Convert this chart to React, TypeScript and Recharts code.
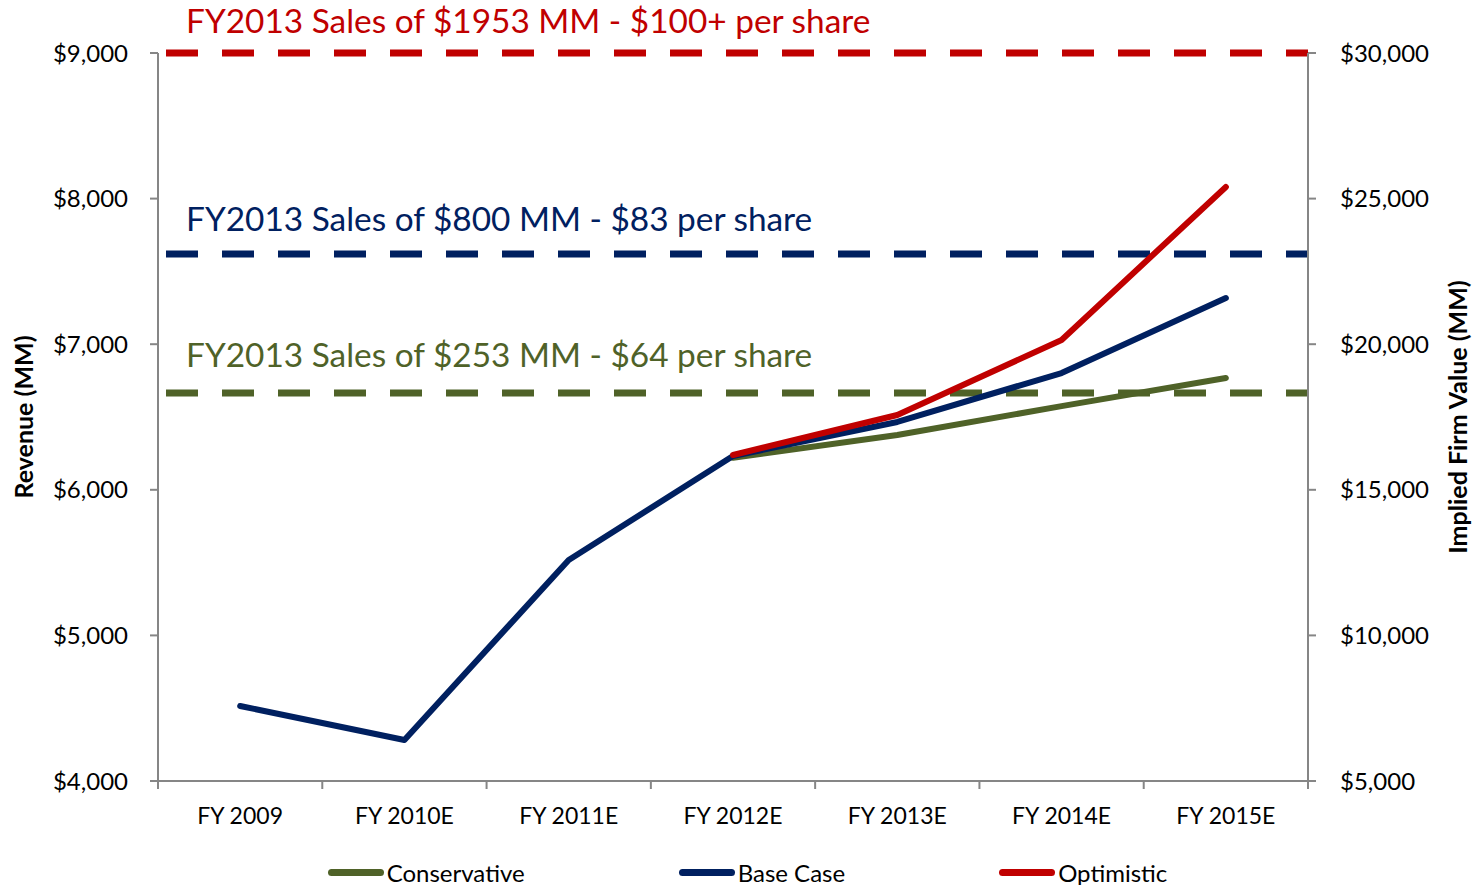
import React from 'react';
import { LineChart, Line, XAxis, YAxis, ReferenceLine, Legend } from 'recharts';

const categories = ['FY 2009', 'FY 2010E', 'FY 2011E', 'FY 2012E', 'FY 2013E', 'FY 2014E', 'FY 2015E'];
const conservative = [null, null, null, 6220, 6376, 6575, 6768];
const baseCase = [4515, 4282, 5518, 6232, 6466, 6802, 7317];
const optimistic = [null, null, null, 6239, 6514, 7029, 8080];
const leftTicks = [4000, 5000, 6000, 7000, 8000, 9000];
const rightTicks = [5000, 10000, 15000, 20000, 25000, 30000];
const thresholdValues = [9000, 7620, 6665];
const thresholdLabels = [
  'FY2013 Sales of $1953 MM - $100+ per share',
  'FY2013 Sales of $800 MM - $83 per share',
  'FY2013 Sales of $253 MM - $64 per share',
];
const thresholdColors = ['#C00000', '#002060', '#4F6228'];
const labelOffsets = [20, 23, 26];
const seriesNames = ['Conservative', 'Base Case', 'Optimistic'];
const seriesKeys = ['conservative', 'baseCase', 'optimistic'];
const seriesColors = ['#4F6228', '#002060', '#C00000'];

const data = categories.map((c, i) => ({
  name: c,
  conservative: conservative[i],
  baseCase: baseCase[i],
  optimistic: optimistic[i],
}));

const W = 1475;
const H = 885;
const TOP = 53;
const LEFT_W = 158;
const RIGHT_W = 167;
const LEGEND_H = 30;
const XAXIS_H = 74;
const PLOT_W = W - LEFT_W - RIGHT_W;
const AXIS_Y = H - LEGEND_H - XAXIS_H;
const BAND = PLOT_W / categories.length;
const FONT = 'Lato, "Open Sans", sans-serif';
const AXIS_COLOR = '#868686';

const fmt = (v: number) => '$' + v.toLocaleString('en-US');

const XTick = (props: any) => {
  const { x, payload, index } = props;
  const half = BAND / 2;
  return (
    <g>
      <line x1={x - half} x2={x - half} y1={AXIS_Y} y2={AXIS_Y + 8} stroke={AXIS_COLOR} strokeWidth={2} />
      {index === categories.length - 1 && (
        <line x1={x + half} x2={x + half} y1={AXIS_Y} y2={AXIS_Y + 8} stroke={AXIS_COLOR} strokeWidth={2} />
      )}
      <text x={x} y={AXIS_Y + 43} textAnchor="middle" fill="#000" fontSize={23} fontFamily={FONT}>
        {payload.value}
      </text>
    </g>
  );
};

const LegendContent = () => (
  <div
    style={{
      height: LEGEND_H,
      boxSizing: 'border-box',
      display: 'flex',
      justifyContent: 'center',
      alignItems: 'center',
      gap: 154,
      paddingLeft: 20,
      fontFamily: FONT,
      fontSize: 24,
      color: '#000',
    }}
  >
    {seriesNames.map((n, i) => (
      <div key={n} style={{ display: 'flex', alignItems: 'center', position: 'relative', top: 2 }}>
        <div style={{ width: 56, height: 7, borderRadius: 4, background: seriesColors[i], marginRight: 3 }} />
        <span>{n}</span>
      </div>
    ))}
  </div>
);

export default function App() {
  return (
    <div style={{ position: 'absolute', left: 0, top: 0, width: W, height: H, background: '#fff' }}>
      <LineChart width={W} height={H} data={data} margin={{ top: TOP, right: 0, bottom: 0, left: 0 }}>
        <XAxis
          dataKey="name"
          scale="band"
          height={XAXIS_H}
          axisLine={{ stroke: AXIS_COLOR, strokeWidth: 2 }}
          tickLine={false}
          tick={<XTick />}
          interval={0}
        />
        <YAxis
          yAxisId="left"
          width={LEFT_W}
          domain={[4000, 9000]}
          ticks={leftTicks}
          tickFormatter={fmt}
          axisLine={{ stroke: AXIS_COLOR, strokeWidth: 2 }}
          tickLine={{ stroke: AXIS_COLOR, strokeWidth: 2 }}
          tickSize={8}
          tickMargin={22}
          tick={{ fill: '#000', fontSize: 24, fontFamily: FONT }}
          label={{
            content: (p: any) => {
              const vb = p.viewBox;
              const cy = vb.y + vb.height / 2;
              return (
                <text x={33} y={cy} transform={`rotate(-90, 33, ${cy})`} textAnchor="middle" fontWeight="bold" fontSize={25} fontFamily={FONT} fill="#000">
                  Revenue (MM)
                </text>
              );
            },
          }}
        />
        <YAxis
          yAxisId="right"
          orientation="right"
          width={RIGHT_W}
          type="number"
          domain={[5000, 30000]}
          allowDataOverflow
          ticks={rightTicks}
          tickFormatter={fmt}
          axisLine={{ stroke: AXIS_COLOR, strokeWidth: 2 }}
          tickLine={{ stroke: AXIS_COLOR, strokeWidth: 2 }}
          tickSize={8}
          tickMargin={24}
          tick={{ fill: '#000', fontSize: 24, fontFamily: FONT }}
          label={{
            content: (p: any) => {
              const vb = p.viewBox;
              const cy = vb.y + vb.height / 2;
              const x = 1467;
              return (
                <text x={x} y={cy} transform={`rotate(-90, ${x}, ${cy})`} textAnchor="middle" fontWeight="bold" fontSize={25} fontFamily={FONT} fill="#000">
                  Implied Firm Value (MM)
                </text>
              );
            },
          }}
        />
        {thresholdValues.map((v, i) => (
          <ReferenceLine
            key={i}
            yAxisId="left"
            y={v}
            stroke={thresholdColors[i]}
            strokeWidth={7}
            strokeDasharray="32 24"
            strokeDashoffset={48}
            label={{
              content: (p: any) => {
                const vb = p.viewBox;
                return (
                  <text x={vb.x + 28} y={vb.y - labelOffsets[i]} fill={thresholdColors[i]} fontSize={33.4} fontFamily={FONT}>
                    {thresholdLabels[i]}
                  </text>
                );
              },
            }}
          />
        ))}
        {seriesKeys.map((k, i) => (
          <Line
            key={k}
            yAxisId="left"
            type="linear"
            dataKey={k}
            name={seriesNames[i]}
            stroke={seriesColors[i]}
            strokeWidth={6}
            strokeLinecap="round"
            strokeLinejoin="round"
            dot={false}
            activeDot={false}
            connectNulls={false}
            isAnimationActive={false}
          />
        ))}
        <Legend verticalAlign="bottom" content={<LegendContent />} />
      </LineChart>
    </div>
  );
}
